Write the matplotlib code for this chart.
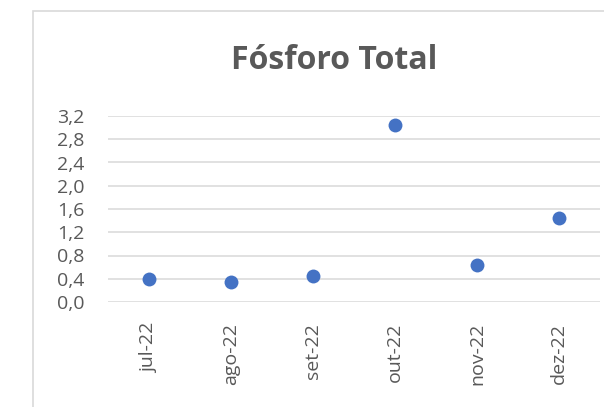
import numpy as np
import matplotlib
matplotlib.use("Agg")
import matplotlib.pyplot as plt
from matplotlib.patches import Rectangle
from matplotlib.ticker import FuncFormatter, MultipleLocator

# Fósforo total, monthly samples
meses = ["jul-22", "ago-22", "set-22", "out-22", "nov-22", "dez-22"]
fosforo = [0.40, 0.35, 0.45, 3.04, 0.63, 1.44]

plt.rcParams['font.family'] = ['Open Sans', 'DejaVu Sans']

fig = plt.figure(figsize=(6.04, 4.07), dpi=100)

# light frame around the chart, open at right and bottom
fig.patches.append(Rectangle((33/604, -0.1), 1.0, 1 - 11/407 + 0.1,
                             transform=fig.transFigure, fill=False,
                             edgecolor="#d9d9d9", linewidth=1.2))

ax = fig.add_axes([108/604, 1 - 302/407, 492/604, 186/407])

x = np.arange(len(meses))
ax.scatter(x, fosforo, s=100, color="#4472C4", zorder=3, linewidths=0)

ax.set_xlim(-0.5, len(meses) - 0.5)
ax.set_ylim(0, 3.2)
ax.yaxis.set_major_locator(MultipleLocator(0.4))
ax.yaxis.set_major_formatter(FuncFormatter(lambda v, p: f"{v:.1f}".replace(".", ",")))
ax.set_xticks(x)
ax.set_xticklabels(meses, rotation=90)

ax.grid(axis="y", color="#d9d9d9", linewidth=1.1)
ax.set_axisbelow(True)
for s in ax.spines.values():
    s.set_visible(False)
ax.tick_params(axis="both", length=0, labelcolor="#595959", labelsize=14)
ax.tick_params(axis="y", pad=17)
ax.tick_params(axis="x", pad=15)

fig.text(334/604, 1 - 69/407, "Fósforo Total", ha="center", va="baseline",
         fontsize=23, fontweight="bold", color="#595959")

fig.savefig("out.png", dpi=100)
